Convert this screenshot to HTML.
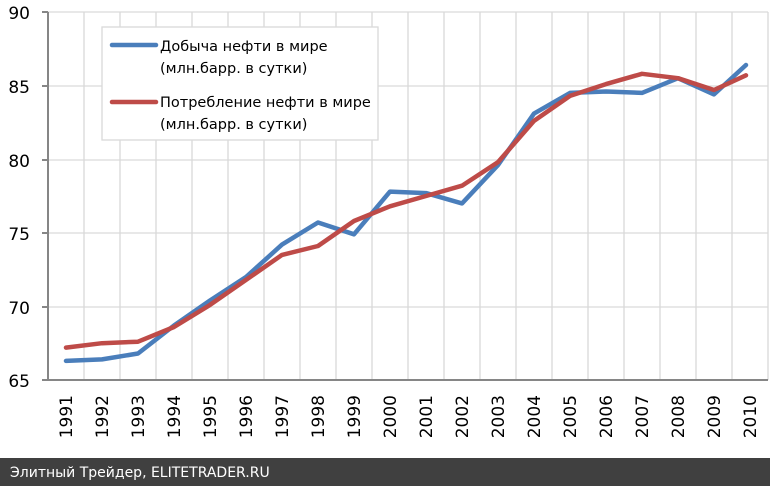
<!DOCTYPE html>
<html><head><meta charset="utf-8"><style>
html,body{margin:0;padding:0;background:#fff;width:770px;height:486px;overflow:hidden}
</style></head><body>
<svg width="770" height="486" xmlns="http://www.w3.org/2000/svg" font-family="'DejaVu Sans','Liberation Sans',sans-serif">
<g stroke="#d9d9d9" stroke-width="1.3">
<line x1="48" y1="12" x2="768" y2="12"/><line x1="48" y1="86" x2="768" y2="86"/><line x1="48" y1="160" x2="768" y2="160"/><line x1="48" y1="233" x2="768" y2="233"/><line x1="48" y1="307" x2="768" y2="307"/>
<line x1="84" y1="12" x2="84" y2="380"/><line x1="120" y1="12" x2="120" y2="380"/><line x1="156" y1="12" x2="156" y2="380"/><line x1="192" y1="12" x2="192" y2="380"/><line x1="228" y1="12" x2="228" y2="380"/><line x1="264" y1="12" x2="264" y2="380"/><line x1="300" y1="12" x2="300" y2="380"/><line x1="336" y1="12" x2="336" y2="380"/><line x1="372" y1="12" x2="372" y2="380"/><line x1="408" y1="12" x2="408" y2="380"/><line x1="444" y1="12" x2="444" y2="380"/><line x1="480" y1="12" x2="480" y2="380"/><line x1="516" y1="12" x2="516" y2="380"/><line x1="552" y1="12" x2="552" y2="380"/><line x1="588" y1="12" x2="588" y2="380"/><line x1="624" y1="12" x2="624" y2="380"/><line x1="660" y1="12" x2="660" y2="380"/><line x1="696" y1="12" x2="696" y2="380"/><line x1="732" y1="12" x2="732" y2="380"/><line x1="768" y1="12" x2="768" y2="380"/>
</g>
<g stroke="#868686" stroke-width="2">
<line x1="48" y1="12" x2="48" y2="381"/><line x1="47" y1="380" x2="768" y2="380"/>
<line x1="42" y1="12" x2="48" y2="12"/><line x1="42" y1="86" x2="48" y2="86"/><line x1="42" y1="160" x2="48" y2="160"/><line x1="42" y1="233" x2="48" y2="233"/><line x1="42" y1="307" x2="48" y2="307"/><line x1="42" y1="380" x2="48" y2="380"/>
</g>
<g font-size="17" fill="#000" text-anchor="end">
<text x="30" y="19">90</text><text x="30" y="93">85</text><text x="30" y="167">80</text><text x="30" y="240">75</text><text x="30" y="314">70</text><text x="30" y="387">65</text>
</g>
<g font-size="17" fill="#000" text-anchor="end">
<text transform="translate(72,395) rotate(-90)">1991</text><text transform="translate(108,395) rotate(-90)">1992</text><text transform="translate(144,395) rotate(-90)">1993</text><text transform="translate(180,395) rotate(-90)">1994</text><text transform="translate(216,395) rotate(-90)">1995</text><text transform="translate(252,395) rotate(-90)">1996</text><text transform="translate(288,395) rotate(-90)">1997</text><text transform="translate(324,395) rotate(-90)">1998</text><text transform="translate(360,395) rotate(-90)">1999</text><text transform="translate(396,395) rotate(-90)">2000</text><text transform="translate(432,395) rotate(-90)">2001</text><text transform="translate(468,395) rotate(-90)">2002</text><text transform="translate(504,395) rotate(-90)">2003</text><text transform="translate(540,395) rotate(-90)">2004</text><text transform="translate(576,395) rotate(-90)">2005</text><text transform="translate(612,395) rotate(-90)">2006</text><text transform="translate(648,395) rotate(-90)">2007</text><text transform="translate(684,395) rotate(-90)">2008</text><text transform="translate(720,395) rotate(-90)">2009</text><text transform="translate(756,395) rotate(-90)">2010</text>
</g>
<polyline fill="none" stroke="#4a7ebb" stroke-width="4.5" stroke-linejoin="round" stroke-linecap="round" points="66,360.9 102,359.4 138,353.5 174,325.5 210,300.5 246,277 282,244.6 318,222.5 354,234.3 390,191.6 426,193.1 462,203.4 498,165.1 534,113.6 570,92.9 606,91.5 642,92.9 678,78.2 714,94.4 746,65"/>
<polyline fill="none" stroke="#be4b48" stroke-width="4.5" stroke-linejoin="round" stroke-linecap="round" points="66,347.6 102,343.2 138,341.7 174,327 210,304.9 246,279.9 282,254.9 318,246 354,221 390,206.3 426,196 462,185.7 498,162.1 534,120.9 570,95.9 606,84.1 642,73.8 678,78.2 714,90 746,75.3"/>
<rect x="102" y="27" width="276" height="113" fill="#fff" stroke="#d9d9d9" stroke-width="1.3"/>
<line x1="112" y1="45" x2="156" y2="45" stroke="#4a7ebb" stroke-width="4.5" stroke-linecap="round"/>
<line x1="112" y1="102" x2="156" y2="102" stroke="#be4b48" stroke-width="4.5" stroke-linecap="round"/>
<g font-size="14.5" fill="#000">
<text x="160" y="51">Добыча нефти в мире</text>
<text x="160" y="73">(млн.барр. в сутки)</text>
<text x="160" y="107">Потребление нефти в мире</text>
<text x="160" y="129">(млн.барр. в сутки)</text>
</g>
<rect x="0" y="458" width="770" height="28" fill="#404040"/>
<text x="10" y="477" font-size="14" fill="#fff">Элитный Трейдер, ELITETRADER.RU</text>
</svg>
</body></html>
